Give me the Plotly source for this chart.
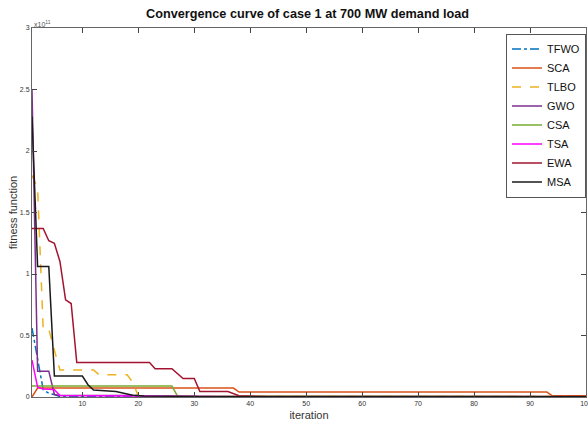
import plotly.graph_objects as go

# values are in units of 1e11
series_names = ["TFWO", "SCA", "TLBO", "GWO", "CSA", "TSA", "EWA", "MSA"]

tfwo_x = [1, 2, 3, 4, 5, 6, 100]
tfwo_y = [0.56, 0.30, 0.06, 0.03, 0.02, 0.003, 0.002]

sca_x = [1, 2, 37, 38, 93, 94, 100]
sca_y = [0.0, 0.073, 0.073, 0.04, 0.04, 0.01, 0.01]

tlbo_x = [1, 2, 3, 4, 5, 6, 12, 13, 18, 19, 20, 21, 100]
tlbo_y = [1.8, 1.7, 0.55, 0.55, 0.38, 0.22, 0.22, 0.18, 0.18, 0.12, 0.01, 0.004, 0.003]

gwo_x = [1, 2, 4, 5, 6, 20, 21, 100]
gwo_y = [2.5, 0.21, 0.21, 0.02, 0.012, 0.012, 0.004, 0.003]

csa_x = [1, 26, 27, 89, 90, 100]
csa_y = [0.089, 0.089, 0.008, 0.008, 0.002, 0.002]

tsa_x = [1, 2, 3, 5, 6, 40, 41, 100]
tsa_y = [0.30, 0.08, 0.065, 0.06, 0.012, 0.008, 0.002, 0.002]

ewa_x = [1, 3, 4, 5, 6, 7, 8, 9, 22, 23, 26, 28, 30, 31, 36, 38, 43, 100]
ewa_y = [1.37, 1.37, 1.27, 1.25, 1.1, 0.79, 0.76, 0.28, 0.28, 0.23, 0.23, 0.15, 0.15, 0.045, 0.045, 0.01, 0.004, 0.004]

msa_x = [1, 2, 4, 5, 10, 11, 12, 16, 19, 20, 21, 30, 31, 100]
msa_y = [2.28, 1.06, 1.06, 0.17, 0.17, 0.10, 0.057, 0.045, 0.015, 0.01, 0.008, 0.005, 0.002, 0.002]

y_ticks = [0, 0.5, 1, 1.5, 2, 2.5, 3]
y_tick_text = ["0", "0.5", "1", "1.5", "2", "2.5", "3"]
x_ticks = [10, 20, 30, 40, 50, 60, 70, 80, 90, 100]

xs = [tfwo_x, sca_x, tlbo_x, gwo_x, csa_x, tsa_x, ewa_x, msa_x]
ys = [tfwo_y, sca_y, tlbo_y, gwo_y, csa_y, tsa_y, ewa_y, msa_y]
colors = ["#0072BD", "#D95319", "#EDB120", "#7E2F8E", "#77AC30", "#FF00FF", "#A2142F", "#1a1a1a"]
dashes = ["dashdot", "solid", "dash", "solid", "solid", "solid", "solid", "solid"]

FONT = "Liberation Sans, Arial, sans-serif"

fig = go.Figure()
for name, x, y, c, d in zip(series_names, xs, ys, colors, dashes):
    fig.add_trace(go.Scatter(x=x, y=y, mode="lines", name=name,
                             line=dict(color=c, width=1.5, dash=d)))

fig.update_layout(
    width=588, height=434,
    margin=dict(l=32, r=2, t=28, b=37),
    paper_bgcolor="white", plot_bgcolor="white",
    font=dict(family=FONT, color="#222"),
    title=dict(text="<b>Convergence curve of case 1 at 700 MW demand load</b>",
               x=0.523, xanchor="center", y=0.968, yanchor="middle",
               font=dict(size=12.7, family=FONT, color="#111")),
    showlegend=True,
    legend=dict(x=1.0, y=0.985, xanchor="right", yanchor="top",
                bgcolor="white", bordercolor="#555", borderwidth=1,
                font=dict(size=11, family=FONT, color="#111"),
                tracegroupgap=0, itemwidth=30),
    xaxis=dict(range=[1, 100], tickvals=x_ticks, ticks="inside", ticklen=5,
               showline=True, linecolor="#666", mirror="ticks", showgrid=False,
               zeroline=False, tickfont=dict(size=7, color="#333"), automargin=False,
               ticklabeloverflow="allow",
               title=dict(text="iteration", font=dict(size=11, color="#333"), standoff=4)),
    yaxis=dict(range=[0, 3], tickvals=y_ticks, ticktext=y_tick_text, ticks="inside",
               ticklen=5, showline=True, linecolor="#666", mirror="ticks",
               showgrid=False, zeroline=False, tickfont=dict(size=7, color="#333"),
               automargin=False, ticklabeloverflow="allow",
               title=dict(text="fitness function", font=dict(size=11, color="#333"), standoff=0)),
)

fig.add_annotation(text="x10<sup>11</sup>", xref="paper", yref="paper", x=0, y=1.0,
                   xanchor="left", yanchor="bottom", showarrow=False,
                   font=dict(size=7, color="#555"), yshift=-2)

page_css = ("document.body.style.margin='0';"
            "document.body.style.overflow='hidden';"
            "document.documentElement.style.overflow='hidden';")

fig.write_html("out.html", post_script=page_css, config={"displayModeBar": False})
